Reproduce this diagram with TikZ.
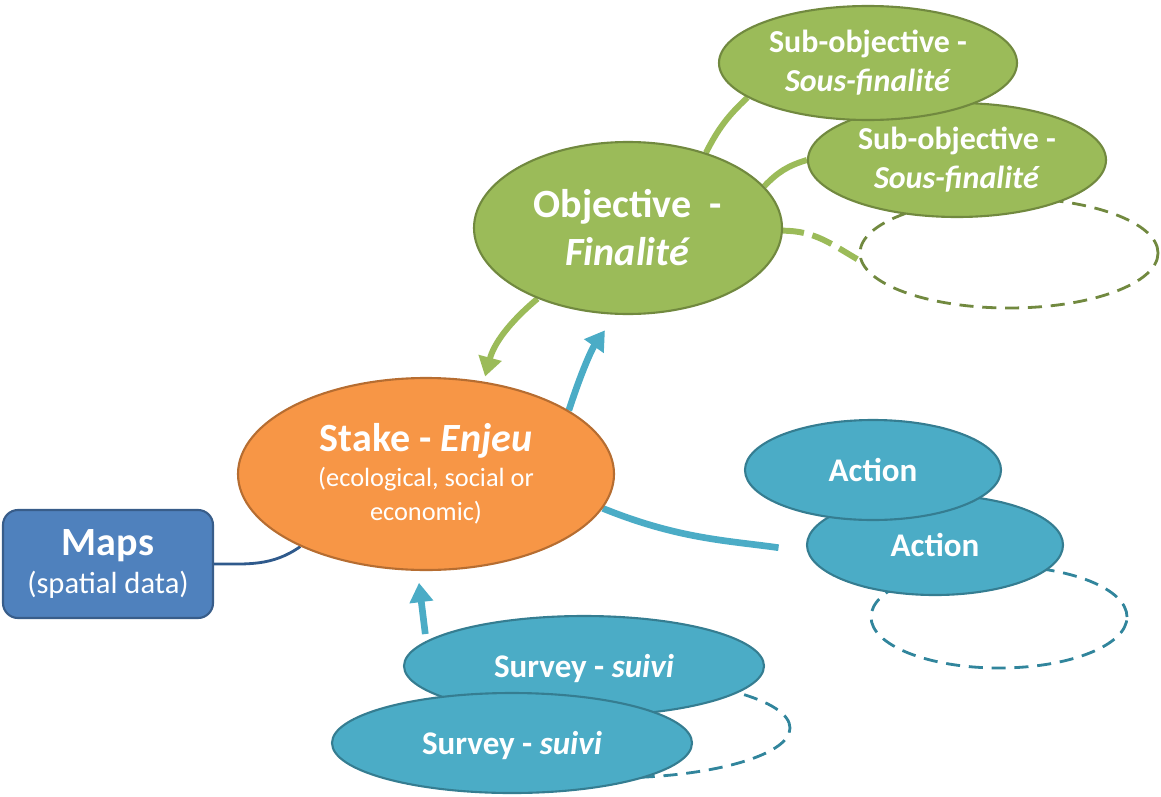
\documentclass[tikz,border=0pt]{standalone}
\usepackage{fontspec}
\setmainfont{Carlito}
\usepackage{tikz}
\usetikzlibrary{shapes,arrows.meta,backgrounds}

\definecolor{objgreen}{HTML}{9BBB59}
\definecolor{objedge}{HTML}{71893F}
\definecolor{stakeorange}{HTML}{F79646}
\definecolor{stakeedge}{HTML}{B66D31}
\definecolor{actblue}{HTML}{4BACC6}
\definecolor{actedge}{HTML}{357D91}
\definecolor{gapblue}{HTML}{31859C}
\definecolor{mapblue}{HTML}{4F81BD}
\definecolor{mapedge}{HTML}{385D8A}
\definecolor{mapline}{HTML}{2F5A8C}

\newcommand{\headtxt}{\bfseries\fontsize{22.8}{19.5}\selectfont}

\tikzset{
  bubble/.style={ellipse,inner sep=0pt,line width=1.2pt,text=white,align=center},
  goal/.style={bubble,fill=objgreen,draw=objedge,minimum width=6.16cm,minimum height=3.44cm,
    font=\bfseries\fontsize{22.8}{27.3}\selectfont},
  subgoal/.style={bubble,fill=objgreen,draw=objedge,minimum width=5.96cm,minimum height=2.28cm,
    font=\bfseries\fontsize{18.2}{22.2}\selectfont},
  goalgap/.style={ellipse,draw=objedge,line width=1.6pt,dash pattern=on 8pt off 5pt,
    minimum width=5.96cm,minimum height=2.2cm},
  stake/.style={bubble,fill=stakeorange,draw=stakeedge,minimum width=7.52cm,minimum height=3.84cm,
    font=\fontsize{15}{19.5}\selectfont},
  maps/.style={rectangle,rounded corners=0.3cm,inner sep=0pt,line width=1.2pt,fill=mapblue,draw=mapedge,
    text=white,align=center,minimum width=4.2cm,minimum height=2.16cm,
    font=\fontsize{17.4}{22}\selectfont},
  action/.style={bubble,fill=actblue,draw=actedge,minimum width=5.12cm,minimum height=2cm,
    text depth=0pt,font=\bfseries\fontsize{18.8}{22.5}\selectfont},
  actgap/.style={ellipse,draw=gapblue,line width=1.6pt,dash pattern=on 8pt off 5pt,
    minimum width=5.12cm,minimum height=2.04cm},
  survey/.style={action,minimum width=7.2cm,minimum height=2cm},
  survgap/.style={actgap,minimum width=7.2cm,minimum height=2cm},
  greenlink/.style={draw=objgreen,line width=3.4pt},
  bluelink/.style={draw=actblue,line width=3.8pt},
  tip/.style={-{Triangle[length=11pt,width=13pt]}}
}

\begin{document}
\begin{tikzpicture}
\useasboundingbox (0,0) rectangle (23.22,15.92);
% objective and its sub-objectives
\node[goalgap] (fin3) at (20.18,10.86) {};
\node[subgoal] (fin2) at (19.14,12.72) {Sub-objective -\\\textit{Sous-finalité}};
\node[subgoal] (fin1) at (17.36,14.66) {Sub-objective -\\\textit{Sous-finalité}};
\node[goal] (obj) at (12.56,11.36) {Objective~ -\\\textit{Finalité}};
% stake and maps
\node[stake] (enjeu) at (8.52,6.44) {{\headtxt Stake - \textit{Enjeu}}\\(ecological, social or\\economic)};
\node[maps] (maps) at (2.16,4.64) {{\headtxt Maps}\\(spatial data)};
% actions
\node[actgap] (act3) at (19.98,3.58) {};
\node[action] (act2) at (18.7,5.02) {Action};
\node[action] (act1) at (17.46,6.52) {Action};
% surveys
\node[survgap] (surv3) at (12.2,1.36) {};
\node[survey] (surv1) at (11.68,2.6) {Survey - \textit{suivi}};
\node[survey] (surv2) at (10.24,1.06) {Survey - \textit{suivi}};
\begin{scope}[on background layer]
\draw[greenlink] (obj.44) to[bend left=10] (fin1.196);
\draw[greenlink] (obj.17) to[bend left=15] (fin2.180);
\draw[greenlink,dash pattern=on 12pt off 5pt] (obj.-1) to[out=0,in=150] (fin3.183);
\draw[greenlink,tip,shorten >=3pt] (obj.218) to[out=220,in=75] (enjeu.58);
\draw[bluelink,tip,shorten >=10.8pt] (enjeu.24) to[out=72,in=235] (obj.262);
\draw[bluelink,shorten >=16.4pt] (enjeu.-11) to[out=-22,in=172] (act2.183);
\draw[mapline,line width=1.6pt] (maps.east) to[out=0,in=215] (enjeu.210);
\draw[bluelink,tip,shorten <=4pt,shorten >=6.8pt] (surv1.171) -- (enjeu.265);
\end{scope}
\end{tikzpicture}
\end{document}
